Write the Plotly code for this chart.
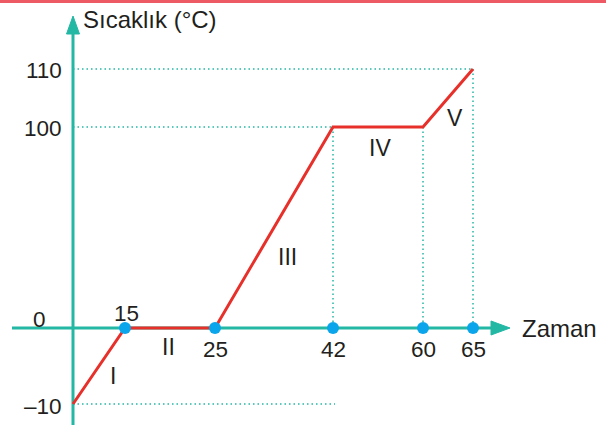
import numpy as np
import plotly.graph_objects as go

# Veriler: zaman (dk) ve sıcaklık (°C)
zaman = [0, 15, 25, 42, 60, 65]
sicaklik = [-10, 0, 0, 100, 100, 110]
bolgeler = ["I", "II", "III", "IV", "V"]
zaman_etiket = [15, 25, 42, 60, 65]
sicaklik_etiket = [-10, 0, 100, 110]

# Şematik eksen: ölçekli değil, her değer kendi yerinde (piksel)
x_ref_deger = [0, 15, 25, 42, 60, 65]
x_ref_konum = [73, 125, 215, 333, 423, 473]
y_ref_deger = [-10, 0, 100, 110]
y_ref_konum = [404, 328, 127, 69]

def sx(v):
    return np.interp(v, x_ref_deger, x_ref_konum)

def sy(v):
    return np.interp(v, y_ref_deger, y_ref_konum)

TEAL = "#22b8a4"
RED = "#e8302a"
BLUE = "#0aa5ea"
FONT = "Liberation Sans, Arial, sans-serif"
TXT = "#231f20"

fig = go.Figure()

# noktalı kılavuz çizgiler
nokta = dict(color=TEAL, width=1.5, dash="1.5px,3px")
x0 = sx(0)
for t, s, bitis in [(110, sy(110), sx(65)), (100, sy(100), sx(42)), (-10, sy(-10), 335)]:
    fig.add_trace(go.Scatter(x=[x0, bitis], y=[s, s], mode="lines", line=nokta, hoverinfo="skip"))
for z, t in [(42, 100), (60, 100), (65, 110)]:
    fig.add_trace(go.Scatter(x=[sx(z), sx(z)], y=[sy(t), sy(0)], mode="lines", line=nokta, hoverinfo="skip"))

# eksenler (oklarla)
fig.add_trace(go.Scatter(x=[x0, x0], y=[425, 30], mode="lines",
                         line=dict(color=TEAL, width=3), hoverinfo="skip"))
fig.add_trace(go.Scatter(x=[12, 495], y=[sy(0), sy(0)], mode="lines",
                         line=dict(color=TEAL, width=3), hoverinfo="skip"))
fig.add_trace(go.Scatter(x=[x0 - 6.5, x0, x0 + 6.5, x0 - 6.5], y=[34, 16, 34, 34],
                         mode="lines", fill="toself", fillcolor=TEAL,
                         line=dict(color=TEAL, width=1), hoverinfo="skip"))
ya = sy(0)
fig.add_trace(go.Scatter(x=[491, 510, 491, 491], y=[ya - 7, ya, ya + 7, ya - 7],
                         mode="lines", fill="toself", fillcolor=TEAL,
                         line=dict(color=TEAL, width=1), hoverinfo="skip"))

# ısınma eğrisi
fig.add_trace(go.Scatter(x=sx(zaman), y=sy(sicaklik), mode="lines",
                         line=dict(color=RED, width=3), hoverinfo="skip"))
fig.add_trace(go.Scatter(x=sx(zaman_etiket), y=[sy(0)] * len(zaman_etiket), mode="markers",
                         marker=dict(color=BLUE, size=12), hoverinfo="skip"))

ann = []
def yazi(x, y, t, xa="center", ya="middle", size=22.5):
    ann.append(dict(x=x, y=y, text=t, showarrow=False, xanchor=xa, yanchor=ya,
                    font=dict(family=FONT, size=size, color=TXT)))

for t in sicaklik_etiket:
    if t == 0:
        yazi(48, sy(0) - 9, "0", xa="right")
    else:
        yazi(64, sy(t) + (2 if t < 0 else 1), ("–" + str(-t)) if t < 0 else str(t), xa="right")
for z in zaman_etiket:
    if z == 15:
        yazi(sx(z) + 1, sy(0) - 15, str(z))
    else:
        yazi(sx(z), sy(0) + 21, str(z))

yazi(81, 19, "Sıcaklık (°C)", xa="left", size=24)
yazi(520, sy(0), "Zaman", xa="left", size=24)

# bölge numaraları
bolge_konum = [(113, 376), (168, 347), (287, 257), (380, 148), (455, 118)]
for b, (bx, by) in zip(bolgeler, bolge_konum):
    yazi(bx, by, b, size=23)

fig.update_layout(
    width=613, height=425,
    margin=dict(l=0, r=0, t=0, b=0),
    paper_bgcolor="white", plot_bgcolor="white",
    showlegend=False,
    xaxis=dict(range=[0, 613], visible=False, fixedrange=True),
    yaxis=dict(range=[425, 0], visible=False, fixedrange=True),
    annotations=ann,
    shapes=[dict(type="line", xref="x", yref="y", x0=0, x1=606, y0=1.5, y1=1.5,
                 line=dict(color="#ee5a63", width=3))],
)

fig.write_html("out.html", config={"displayModeBar": False},
               post_script="document.body.style.margin='0';document.body.style.overflow='hidden';")
